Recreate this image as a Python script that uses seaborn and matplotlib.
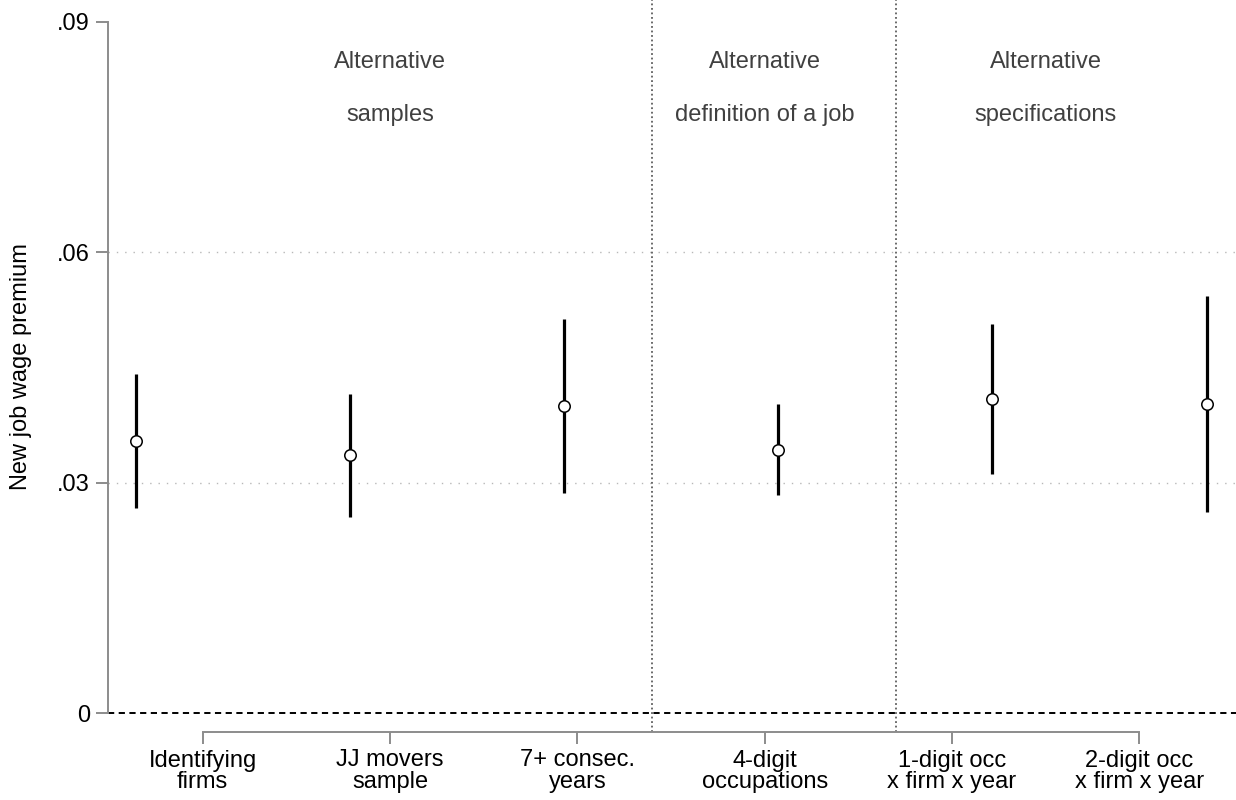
import numpy as np
import pandas as pd
import matplotlib
matplotlib.use("Agg")
import matplotlib.pyplot as plt
import matplotlib.transforms as mtransforms
import seaborn as sns

# Estimates of the new-job wage premium with 95% confidence bounds
categories = ["Identifying\nfirms", "JJ movers\nsample", "7+ consec.\nyears",
              "4-digit\noccupations", "1-digit occ\nx firm x year", "2-digit occ\nx firm x year"]
estimate = [0.0354, 0.0336, 0.0400, 0.0343, 0.0409, 0.0402]
ci_low = [0.0267, 0.0255, 0.0286, 0.0284, 0.0311, 0.0262]
ci_high = [0.0441, 0.0416, 0.0513, 0.0403, 0.0507, 0.0543]

y_ticks = [0, 0.03, 0.06, 0.09]
y_tick_labels = ["0", ".03", ".06", ".09"]

group_titles = [("Alternative", "samples"),
                ("Alternative", "definition of a job"),
                ("Alternative", "specifications")]
group_centres = [2, 4, 5.5]          # on the category-label axis
separators = [3.41, 4.55]            # on the estimate axis

sns.set_theme(style="white")
plt.rcParams["font.family"] = ["Liberation Sans", "DejaVu Sans"]

df = pd.DataFrame({"pos": np.arange(1, len(estimate) + 1),
                   "est": estimate, "lo": ci_low, "hi": ci_high})

fig = plt.figure(figsize=(12.36, 8), dpi=100)
ax = fig.add_axes([108 / 1236, 68 / 800, 1128 / 1236, 732 / 800])

ax.set_xlim(0.871, 6.137)
ax.set_ylim(-0.00243, 0.0928)

# reference lines
for yv in [0.03, 0.06]:
    ax.axhline(yv, color="#b8b8b8", lw=1.0, ls=(0, (1, 5)), zorder=1)
ax.axhline(0, color="black", lw=1.4, ls=(0, (3.2, 2.3)), zorder=2)
for xv in separators:
    ax.axvline(xv, color="#5e5e5e", lw=1.3, ls=(0, (1, 1.5)), zorder=1)

# confidence intervals and point estimates
ax.vlines(df["pos"], df["lo"], df["hi"], color="black", lw=2.3, zorder=3)
sns.scatterplot(data=df, x="pos", y="est", ax=ax, s=68, color="white",
                edgecolor="black", linewidth=1.1, zorder=4, legend=False)

# y axis
ax.set_yticks(y_ticks)
ax.set_yticklabels(y_tick_labels)
ax.tick_params(axis="y", which="major", left=True, length=8.6, width=1.4,
               color="#8c8c8c", pad=4.5, labelsize=17, labelcolor="black")
for s in ["top", "right", "bottom"]:
    ax.spines[s].set_visible(False)
ax.spines["left"].set_color("#8c8c8c")
ax.spines["left"].set_linewidth(1.4)
ax.spines["left"].set_bounds(0, 0.09)
ax.set_xticks([])
ax.set_xlabel("")
ax.set_ylabel("New job wage premium", fontsize=17, color="black")
ax.yaxis.label.set_va("center")
ax.yaxis.set_label_coords(-0.077, 0.4986)

# category axis along the bottom
ax2 = ax.twiny()
ax2.set_xlim(0.4944, 6.516)
ax2.xaxis.set_ticks_position("bottom")
ax2.xaxis.set_label_position("bottom")
ax2.set_xticks(np.arange(1, len(categories) + 1))
ax2.set_xticklabels(categories)
ax2.tick_params(axis="x", bottom=True, top=False, length=8.6, width=1.4,
                color="#8c8c8c", pad=4, labelsize=17, labelcolor="black")
for t in ax2.get_xticklabels():
    t.set_linespacing(0.98)
for s in ["top", "right", "left"]:
    ax2.spines[s].set_visible(False)
ax2.spines["bottom"].set_visible(True)
ax2.spines["bottom"].set_color("#8c8c8c")
ax2.spines["bottom"].set_linewidth(1.4)
ax2.spines["bottom"].set_bounds(1, 6)

# group headings
trans = mtransforms.blended_transform_factory(ax2.transData, ax.transData)
for (l1, l2), xc in zip(group_titles, group_centres):
    ax2.text(xc, 0.0840, l1, transform=trans, ha="center", va="baseline",
             fontsize=17, color="#404040")
    ax2.text(xc, 0.0770, l2, transform=trans, ha="center", va="baseline",
             fontsize=17, color="#404040")

fig.savefig("out.png", dpi=100, facecolor="white")
